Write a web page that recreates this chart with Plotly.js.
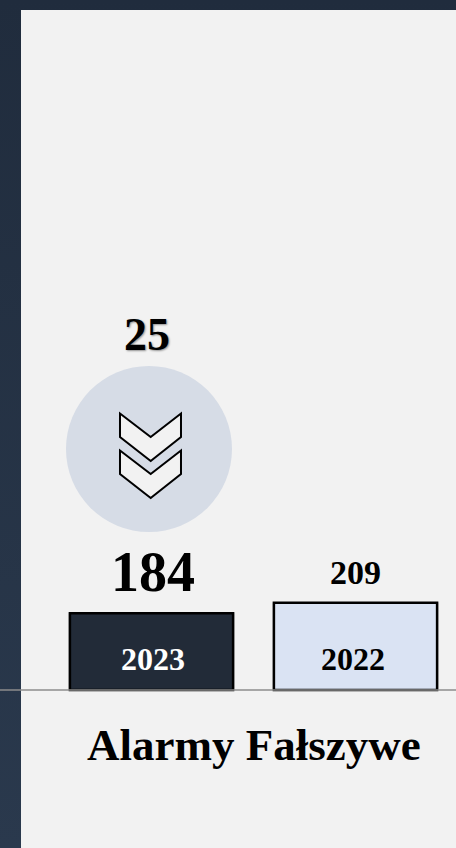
<!DOCTYPE html>
<html><head><meta charset="utf-8">
<script src="https://cdn.plot.ly/plotly-3.0.1.min.js"></script>
<style>
html,body{margin:0;padding:0;width:456px;height:848px;overflow:hidden;background:linear-gradient(180deg,#202c3d 0,#2a394d 100%)}
#c{width:456px;height:848px}
</style></head><body><div id="c"></div>
<script>
var years = ['2023','2022'];
var values = [184,209];
var barColors = ['#222b38','#dae3f3'];
var yearColors = ['#ffffff','#000000'];
var valueSizes = [56,34];
var change = '25';
var chartTitle = 'Alarmy Fałszywe';
var FONT = '"Liberation Serif", serif';

var pxPerUnit = 0.4175;
var W=435,H=838,baseFromTop=680;
var yMin = -(H-baseFromTop)/pxPerUnit, yMax = baseFromTop/pxPerUnit;
var xMin = (21-151.5)/204, xMax=(456-151.5)/204;

var shapes = [
 {type:'line',xref:'paper',yref:'y',x0:-21/435,x1:1,y0:0,y1:0,line:{color:'#8c8c8c',width:1.5},layer:'above'},
 {type:'circle',xref:'x',yref:'paper',xsizemode:'pixel',ysizemode:'pixel',xanchor:-0.0123,yanchor:(848-449)/838,x0:-83,x1:83,y0:-83,y1:83,fillcolor:'#d6dce6',line:{width:0},layer:'below'}
];
function chevron(dy){
 return {type:'path',xref:'x',yref:'paper',xsizemode:'pixel',ysizemode:'pixel',xanchor:-0.0123,yanchor:(848-449)/838,
  path:'M-29,'+(35.5-dy)+' L1.7,'+(12-dy)+' L32,'+(35.5-dy)+' L32,'+(12-dy)+' L1.7,'+(-12-dy)+' L-29,'+(12-dy)+' Z',
  fillcolor:'#f2f2f2',line:{color:'#000',width:2}};
}
shapes.push(chevron(0)); shapes.push(chevron(37));

var annotations = [];
var yearShift = [1,-3], valueShift=[1,0];
years.forEach(function(y,i){
 annotations.push({x:i,y:0,xref:'x',yref:'y',text:'<b>'+y+'</b>',showarrow:false,yshift:31,xshift:yearShift[i],font:{family:FONT,size:32,color:yearColors[i]},xanchor:'center',yanchor:'middle'});
 annotations.push({x:i,y:values[i],xref:'x',yref:'y',text:'<b>'+values[i]+'</b>',showarrow:false,yshift:i==0?41:30,xshift:valueShift[i],font:{family:FONT,size:valueSizes[i],color:'#000'},xanchor:'center',yanchor:'middle'});
});
annotations.push({x:-0.02,xref:'x',yref:'paper',y:(848-334)/838,text:'<b>'+change+'</b>',showarrow:false,font:{family:FONT,size:46,color:'#000',shadow:'1px 1px 2px rgba(0,0,0,0.4)'},xanchor:'center',yanchor:'middle'});
annotations.push({x:0.5,xref:'x',yref:'paper',y:(848-745)/838,text:'<b>'+chartTitle+'</b>',showarrow:false,font:{family:FONT,size:45,color:'#000'},xanchor:'center',yanchor:'middle'});

Plotly.newPlot('c',[
 {type:'bar',x:[0,1],y:values,width:0.815,marker:{color:'rgba(0,0,0,0.12)',line:{width:0}},hoverinfo:'skip'},
 {type:'bar',x:[0,1],y:values,width:0.8,marker:{color:barColors,line:{color:'#000',width:2.5}},hoverinfo:'skip'}
],{
 width:456,height:848,margin:{l:21,r:0,t:10,b:0,pad:0},barmode:'overlay',
 paper_bgcolor:'rgba(0,0,0,0)',plot_bgcolor:'#f2f2f2',showlegend:false,
 xaxis:{range:[xMin,xMax],visible:false,fixedrange:true},
 yaxis:{range:[yMin,yMax],visible:false,fixedrange:true},
 shapes:shapes,annotations:annotations
},{displayModeBar:false,staticPlot:true});
</script></body></html>
